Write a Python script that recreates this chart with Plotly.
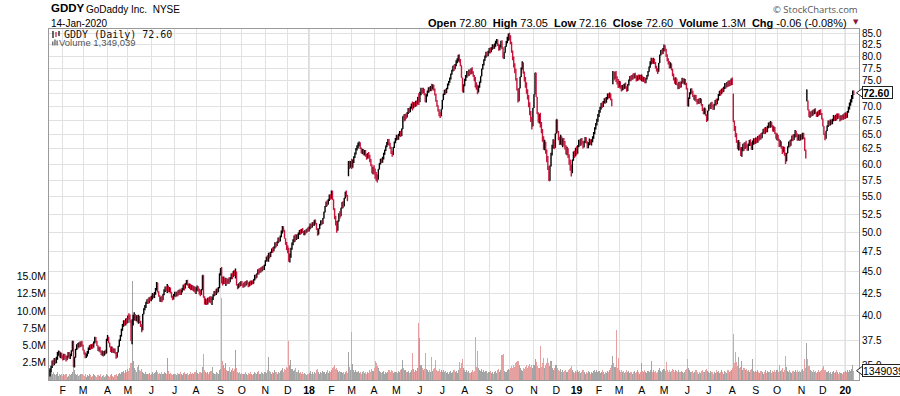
import math
import pandas as pd
import plotly.graph_objects as go

# ---------------- data ----------------
# daily closes, one sub-list per month
close_2017 = [
    [34.5, 34.9, 35.4, 35.2, 35.6, 35.3, 35.8, 36.1, 36.3, 35.9, 36.1, 35.8],
    [35.7, 36.0, 35.8, 35.6, 35.9, 36.2, 35.8, 36.0, 36.4, 37.4, 34.9, 35.8, 36.6, 37.0, 36.8, 37.2, 36.9, 37.3, 37.0],
    [36.5, 36.1, 35.9, 36.0, 36.3, 36.6, 36.9, 36.7, 37.0, 36.8, 37.3, 37.7, 37.4, 36.9, 36.5, 36.7, 36.4, 36.1, 36.3, 36.0, 36.4, 36.2, 37.6],
    [37.8, 37.2, 36.8, 36.4, 36.7, 36.3, 36.6, 36.2, 35.8, 36.3, 36.9, 37.5, 37.9, 38.6, 39.0, 39.4, 39.1, 39.6, 39.3],
    [40.0, 39.9, 39.5, 37.4, 39.3, 39.8, 40.1, 39.6, 39.9, 39.5, 39.8, 39.4, 38.9, 38.5, 40.2, 40.8, 41.0, 41.4, 41.7, 41.5, 41.9, 41.8],
    [42.0, 42.3, 42.1, 42.5, 42.9, 43.7, 42.6, 42.2, 41.6, 42.0, 41.7, 42.4, 42.8, 43.1, 42.9, 43.2, 42.8, 43.0, 42.6, 42.0, 41.9, 42.3],
    [42.5, 42.2, 42.6, 42.4, 42.8, 42.5, 42.7, 43.0, 43.3, 43.1, 43.6, 43.9, 43.5, 43.2, 43.4, 43.0, 43.3, 42.9, 43.1, 42.7],
    [42.9, 43.2, 42.8, 42.6, 42.4, 42.9, 44.6, 42.0, 41.4, 41.7, 41.3, 41.9, 41.6, 42.0, 41.5, 41.8, 42.3, 42.6, 42.4, 42.9, 42.7, 43.1, 44.8],
    [45.2, 44.0, 43.8, 44.2, 43.6, 44.0, 43.7, 44.1, 43.8, 44.3, 44.6, 44.4, 45.1, 44.6, 45.0, 43.4, 43.1, 43.6, 43.4, 43.8],
    [43.5, 43.2, 43.7, 43.4, 43.9, 43.6, 43.3, 43.8, 43.5, 43.9, 43.6, 44.1, 44.5, 44.3, 44.8, 45.2, 44.9, 45.4, 45.1, 45.6, 45.3, 45.8],
    [46.3, 46.8, 46.5, 47.1, 46.9, 47.4, 47.8, 47.6, 48.1, 48.5, 48.2, 48.8, 49.1, 48.9, 49.5, 50.1, 50.6, 50.3, 49.2, 48.4, 48.0],
    [47.6, 46.6, 46.8, 47.9, 48.5, 48.9, 49.4, 49.1, 49.6, 49.3, 49.8, 50.2, 49.9, 50.4, 50.1, 49.7, 50.2, 50.0, 50.5, 50.3],
]
close_2018 = [
    [50.6, 51.0, 50.7, 51.3, 51.0, 51.6, 51.2, 50.4, 49.7, 50.5, 51.1, 51.5, 51.2, 51.9, 52.8, 53.6, 54.2, 53.9, 54.6, 55.1, 54.8],
    [55.8, 54.6, 53.1, 52.0, 51.2, 50.3, 51.5, 52.6, 52.2, 53.4, 54.1, 53.6, 54.8, 55.7, 55.2, 54.4, 60.2, 59.6, 60.3],
    [59.8, 60.4, 61.1, 61.8, 62.4, 62.9, 63.2, 63.5, 62.6, 61.9, 62.3, 61.6, 62.1, 61.4, 61.0, 61.7, 61.2, 60.6, 59.9, 58.6, 59.4],
    [58.8, 58.2, 57.9, 57.6, 59.2, 60.1, 60.7, 60.4, 61.0, 61.6, 62.3, 62.9, 63.5, 63.8, 63.4, 62.6, 61.9, 61.5, 62.8, 63.6, 64.2],
    [64.6, 64.2, 64.9, 65.3, 64.8, 65.9, 68.2, 67.6, 68.4, 68.0, 68.9, 69.4, 69.1, 69.8, 70.3, 69.9, 70.5, 70.2, 70.8, 70.4, 71.8, 71.0],
    [72.6, 73.1, 72.8, 73.3, 72.2, 71.1, 72.0, 72.9, 73.4, 73.1, 73.8, 73.5, 74.0, 73.2, 72.3, 71.0, 70.2, 69.1, 68.6, 68.2, 69.5],
    [71.2, 72.4, 73.0, 72.6, 73.5, 74.2, 74.8, 75.4, 76.3, 77.1, 77.8, 77.4, 78.3, 78.8, 79.4, 79.9, 79.3, 78.1, 75.6, 72.8, 74.1],
    [75.2, 75.9, 76.6, 76.2, 77.0, 76.5, 77.3, 76.8, 75.9, 75.1, 74.3, 73.6, 72.9, 73.8, 74.6, 75.9, 77.4, 78.3, 79.2, 80.1, 80.7, 80.3, 81.0],
    [81.5, 81.1, 81.8, 82.3, 81.9, 82.6, 83.0, 83.6, 82.4, 81.6, 82.3, 83.1, 82.0, 79.6, 80.8, 82.2, 83.3, 83.9, 84.6],
    [84.2, 83.1, 80.9, 79.6, 78.1, 77.0, 75.4, 73.2, 71.0, 73.5, 75.8, 77.6, 78.7, 76.5, 75.2, 74.1, 73.0, 71.6, 70.4, 68.8, 67.5, 66.4, 69.7],
    [72.3, 76.6, 71.8, 68.6, 67.4, 68.1, 66.9, 65.4, 64.2, 62.8, 63.5, 61.9, 60.8, 59.6, 57.4, 59.8, 61.7, 62.9, 63.8, 62.7, 65.1],
    [67.6, 65.3, 64.2, 63.5, 64.6, 63.1, 64.0, 63.4, 62.8, 61.9, 62.4, 61.2, 60.3, 59.4, 58.6, 60.7, 61.9, 61.3, 62.6],
]
close_2019 = [
    [61.8, 63.0, 63.8, 63.2, 64.1, 63.5, 62.9, 63.7, 64.3, 63.6, 62.8, 63.4, 64.0, 63.3, 63.9, 64.4, 65.2, 66.0, 66.8, 67.5, 68.3],
    [69.1, 69.7, 70.4, 70.1, 70.8, 71.3, 70.9, 71.6, 72.2, 71.8, 72.4, 71.2, 70.3, 76.2, 75.7, 76.4, 75.3, 74.8, 74.1],
    [74.5, 73.8, 73.2, 74.0, 73.5, 74.3, 73.7, 73.0, 74.2, 75.1, 75.7, 75.2, 76.1, 75.6, 76.3, 75.8, 75.1, 75.9, 75.4, 76.0, 75.3],
    [75.8, 74.9, 75.6, 74.6, 75.4, 76.0, 76.8, 77.9, 78.7, 79.3, 78.8, 79.4, 78.5, 77.8, 77.1, 76.8, 78.6, 80.4, 81.2, 80.8, 81.6],
    [82.1, 81.4, 80.2, 79.3, 78.6, 77.9, 78.4, 77.2, 76.1, 75.4, 74.6, 75.3, 74.2, 73.6, 74.5, 73.8, 74.7, 75.3, 74.6, 75.1, 74.3, 73.5],
    [70.1, 71.6, 72.5, 73.2, 72.7, 72.1, 71.4, 71.9, 71.2, 70.6, 71.3, 70.8, 71.4, 70.2, 69.4, 68.8, 69.6, 68.3, 67.4, 69.2],
    [70.3, 69.7, 70.6, 70.1, 69.5, 70.4, 71.0, 70.6, 71.3, 72.2, 72.8, 72.4, 73.3, 72.9, 73.7, 74.2, 73.8, 74.6, 74.1, 74.8, 74.3, 75.2],
    [74.6, 67.2, 65.8, 65.1, 63.6, 62.8, 63.4, 62.5, 61.6, 62.4, 63.1, 62.6, 63.5, 63.0, 62.4, 63.2, 63.8, 63.3, 62.7, 63.5, 64.0, 63.6],
    [64.2, 63.7, 64.5, 64.1, 64.9, 64.4, 65.2, 65.8, 65.3, 66.0, 65.5, 66.3, 66.8, 66.5, 67.0, 66.4, 65.7, 66.1, 65.2, 64.3],
    [64.8, 63.9, 63.1, 63.7, 62.6, 62.0, 62.8, 61.4, 60.5, 61.8, 62.9, 63.6, 63.1, 64.0, 64.6, 64.1, 64.9, 65.3, 64.8, 64.2, 64.7, 64.1, 64.8],
    [64.3, 65.0, 64.4, 62.2, 61.1, 71.0, 69.4, 68.1, 68.9, 68.3, 69.2, 68.6, 69.5, 68.8, 68.2, 69.0, 68.5, 69.3, 68.6, 67.8],
    [66.4, 64.9, 64.2, 65.6, 66.5, 67.2, 66.7, 67.4, 66.9, 67.6, 68.1, 67.5, 68.3, 67.9, 68.5, 68.0, 67.6, 68.2, 67.7, 68.4, 68.0],
]
close_2020 = [
    [68.6, 68.1, 69.0, 69.8, 70.4, 71.1, 71.8, 72.66, 72.60],
]

# daily high-low range, in tenths of a percent of the price, one sub-list per month
range_2017 = [
    [22, 18, 20, 16, 19, 15, 17, 21, 14, 18, 16, 15],
    [14, 17, 13, 16, 12, 15, 18, 14, 16, 25, 45, 28, 19, 15, 17, 13, 16, 14, 15],
    [15, 13, 16, 12, 14, 17, 13, 15, 12, 14, 16, 18, 14, 12, 15, 13, 16, 12, 14, 15, 12, 13, 18],
    [16, 14, 12, 15, 17, 13, 12, 14, 18, 15, 17, 19, 16, 20, 18, 17, 15, 19, 16],
    [20, 17, 22, 30, 65, 28, 22, 18, 16, 20, 24, 19, 17, 21, 18, 16, 14, 17, 13, 15, 16, 12],
    [15, 17, 13, 16, 18, 22, 19, 15, 18, 14, 17, 15, 16, 14, 13, 24, 18, 14, 16, 13, 12, 15],
    [13, 15, 12, 16, 13, 17, 14, 12, 15, 18, 14, 13, 16, 12, 14, 17, 13, 15, 14, 17],
    [18, 15, 14, 16, 17, 15, 30, 40, 22, 17, 15, 18, 14, 16, 19, 22, 15, 14, 13, 16, 15, 14, 28],
    [20, 45, 24, 20, 16, 22, 15, 14, 18, 13, 15, 17, 14, 16, 26, 18, 14, 12, 13, 12],
    [12, 11, 13, 15, 12, 11, 13, 12, 14, 11, 10, 12, 15, 13, 11, 14, 16, 12, 15, 13, 12, 14],
    [15, 13, 17, 24, 16, 14, 12, 15, 13, 17, 14, 12, 15, 13, 16, 18, 20, 15, 19, 17, 22],
    [22, 38, 24, 26, 19, 16, 18, 20, 15, 14, 17, 13, 15, 12, 14, 11, 13, 12, 10, 12],
]
range_2018 = [
    [13, 15, 12, 14, 11, 16, 13, 18, 20, 15, 13, 14, 12, 16, 18, 17, 15, 16, 14, 17, 15],
    [22, 25, 28, 30, 26, 32, 27, 22, 20, 18, 17, 19, 16, 18, 17, 16, 40, 22, 18],
    [28, 22, 18, 15, 17, 14, 16, 13, 18, 15, 14, 17, 15, 18, 16, 14, 17, 20, 19, 24, 20],
    [25, 28, 24, 22, 20, 17, 15, 14, 16, 18, 13, 15, 14, 16, 18, 17, 19, 16, 15, 17, 14],
    [15, 13, 16, 14, 17, 20, 30, 20, 18, 15, 14, 16, 13, 15, 14, 24, 17, 14, 16, 15, 19, 32],
    [28, 20, 16, 15, 17, 24, 22, 16, 14, 15, 13, 20, 14, 16, 19, 22, 18, 17, 19, 16, 18],
    [17, 16, 14, 15, 13, 15, 12, 14, 16, 13, 15, 17, 14, 16, 13, 18, 22, 20, 26, 30, 22],
    [20, 16, 18, 15, 17, 14, 16, 18, 15, 17, 28, 20, 25, 19, 17, 16, 18, 15, 17, 14, 16, 13, 15],
    [14, 16, 13, 15, 12, 14, 16, 13, 17, 19, 15, 18, 24, 28, 18, 16, 15, 17, 19],
    [20, 24, 28, 26, 30, 27, 32, 34, 38, 33, 28, 25, 22, 30, 27, 29, 31, 28, 33, 35, 30, 34, 32],
    [30, 45, 38, 32, 28, 26, 40, 30, 34, 36, 28, 32, 34, 38, 40, 32, 36, 28, 25, 26, 30],
    [32, 28, 25, 22, 26, 21, 24, 20, 23, 25, 22, 26, 28, 30, 32, 27, 24, 20, 22],
]
range_2019 = [
    [24, 22, 20, 18, 19, 17, 20, 18, 16, 17, 19, 16, 18, 15, 17, 16, 18, 19, 17, 18, 20],
    [18, 16, 17, 15, 16, 14, 17, 15, 16, 14, 15, 18, 20, 35, 24, 20, 30, 22, 24],
    [18, 20, 17, 15, 16, 14, 17, 15, 18, 16, 14, 15, 13, 16, 14, 15, 17, 14, 16, 13, 15],
    [18, 15, 13, 16, 14, 12, 15, 14, 17, 18, 15, 16, 14, 17, 15, 16, 19, 18, 15, 14, 16],
    [18, 17, 22, 19, 17, 20, 16, 18, 20, 19, 17, 20, 18, 16, 19, 17, 16, 15, 14, 16, 17, 18],
    [30, 24, 18, 16, 15, 17, 14, 16, 18, 15, 13, 16, 14, 17, 19, 16, 18, 19, 21, 18],
    [16, 14, 17, 15, 13, 16, 14, 18, 15, 17, 14, 16, 15, 14, 13, 16, 15, 14, 17, 15, 16, 18],
    [20, 40, 28, 30, 26, 24, 28, 22, 24, 26, 20, 22, 18, 20, 17, 19, 16, 18, 20, 25, 17, 16],
    [17, 15, 18, 16, 14, 17, 15, 13, 16, 18, 14, 17, 15, 16, 18, 14, 17, 15, 19, 17],
    [18, 16, 22, 17, 19, 21, 16, 18, 30, 22, 18, 16, 19, 17, 15, 18, 16, 20, 17, 19, 16, 18, 17],
    [16, 18, 17, 28, 24, 32, 26, 20, 17, 15, 14, 16, 13, 15, 12, 14, 16, 13, 15, 17],
    [20, 24, 18, 16, 15, 17, 14, 16, 13, 15, 17, 14, 16, 18, 15, 13, 16, 14, 12, 15, 16],
]
range_2020 = [
    [17, 15, 18, 16, 19, 17, 20, 22, 12],
]

# daily volume, in units of 100,000 shares, one sub-list per month
vol_2017 = [
    [14, 10, 9, 12, 8, 7, 9, 11, 6, 8, 7, 9],
    [6, 8, 7, 9, 5, 6, 8, 7, 9, 12, 22, 14, 9, 7, 8, 6, 7, 9, 8],
    [7, 6, 8, 5, 7, 6, 9, 7, 5, 6, 8, 7, 6, 5, 7, 6, 8, 5, 6, 7, 5, 6, 8],
    [7, 6, 5, 7, 8, 6, 5, 7, 9, 6, 8, 10, 9, 12, 11, 13, 10, 15, 12],
    [16, 13, 18, 25, 143, 28, 17, 14, 12, 19, 22, 15, 13, 16, 12, 10, 9, 11, 8, 9, 10, 7],
    [9, 11, 8, 10, 12, 14, 11, 9, 10, 8, 12, 9, 11, 10, 8, 32, 13, 9, 10, 8, 7, 9],
    [8, 9, 7, 10, 8, 11, 9, 7, 10, 12, 9, 8, 10, 7, 9, 11, 8, 10, 9, 12],
    [14, 10, 9, 11, 12, 10, 19, 37, 15, 11, 10, 12, 9, 11, 13, 19, 10, 9, 8, 11, 10, 9, 14],
    [16, 119, 28, 22, 17, 24, 15, 13, 19, 12, 14, 18, 13, 16, 44, 17, 12, 10, 11, 9],
    [10, 8, 9, 12, 8, 7, 10, 9, 11, 8, 7, 9, 12, 10, 8, 11, 13, 9, 12, 10, 9, 11],
    [12, 10, 14, 34, 13, 11, 9, 12, 10, 14, 11, 9, 12, 10, 13, 15, 17, 12, 16, 14, 19],
    [18, 56, 21, 29, 16, 13, 15, 18, 12, 11, 14, 10, 12, 9, 11, 8, 10, 9, 7, 8],
]
vol_2018 = [
    [10, 13, 9, 11, 8, 12, 10, 14, 16, 11, 9, 12, 10, 13, 11, 9, 12, 14, 10, 13, 11],
    [15, 17, 19, 21, 16, 18, 14, 12, 13, 11, 10, 12, 9, 11, 13, 10, 41, 19, 14],
    [70, 23, 15, 12, 14, 11, 13, 10, 12, 9, 11, 13, 10, 12, 9, 11, 10, 14, 12, 16, 13],
    [18, 28, 24, 20, 17, 13, 12, 10, 11, 13, 9, 12, 10, 11, 14, 12, 15, 13, 10, 12, 11],
    [12, 10, 13, 11, 14, 16, 29, 18, 15, 12, 11, 13, 10, 12, 14, 39, 16, 12, 15, 13, 17, 83],
    [61, 22, 17, 14, 16, 39, 16, 15, 12, 14, 11, 33, 13, 16, 18, 29, 15, 13, 16, 12, 14],
    [12, 14, 11, 13, 10, 12, 9, 11, 13, 10, 12, 14, 11, 13, 10, 15, 26, 18, 24, 30, 17],
    [15, 12, 14, 11, 13, 10, 12, 14, 11, 13, 62, 19, 42, 17, 14, 13, 16, 12, 14, 11, 13, 10, 12],
    [11, 13, 10, 12, 9, 11, 13, 10, 14, 16, 12, 15, 36, 38, 13, 11, 12, 14, 16],
    [14, 17, 20, 18, 22, 19, 24, 26, 28, 21, 17, 15, 13, 18, 16, 19, 21, 17, 20, 23, 19, 22, 18],
    [21, 31, 26, 20, 18, 17, 49, 19, 24, 32, 17, 21, 25, 32, 24, 20, 28, 18, 15, 17, 22],
    [22, 18, 15, 13, 16, 12, 14, 11, 13, 15, 12, 14, 16, 18, 20, 15, 12, 10, 13],
]
vol_2019 = [
    [12, 14, 11, 13, 10, 12, 14, 11, 9, 12, 10, 13, 11, 9, 12, 10, 13, 15, 12, 14, 11],
    [13, 10, 12, 14, 11, 9, 12, 10, 13, 11, 15, 18, 21, 35, 24, 19, 72, 18, 32],
    [15, 12, 14, 11, 13, 10, 12, 14, 11, 13, 10, 12, 9, 11, 13, 10, 12, 14, 11, 9, 12],
    [24, 13, 11, 14, 12, 10, 13, 11, 15, 28, 12, 14, 11, 13, 10, 12, 15, 17, 13, 11, 14],
    [16, 13, 26, 14, 12, 15, 11, 13, 16, 14, 12, 15, 13, 11, 14, 12, 13, 11, 10, 12, 14, 16],
    [30, 17, 14, 12, 11, 13, 10, 12, 14, 11, 9, 12, 10, 13, 15, 11, 12, 14, 16, 13],
    [12, 10, 13, 11, 9, 12, 10, 14, 11, 13, 10, 12, 14, 11, 9, 13, 12, 10, 14, 11, 13, 15],
    [18, 67, 24, 41, 26, 20, 33, 18, 19, 28, 15, 17, 14, 16, 13, 15, 12, 14, 16, 30, 13, 12],
    [13, 11, 14, 12, 10, 13, 11, 9, 12, 14, 10, 13, 11, 12, 14, 10, 13, 11, 15, 12],
    [14, 12, 21, 13, 15, 17, 12, 14, 35, 19, 13, 11, 14, 12, 10, 13, 11, 15, 12, 14, 11, 13, 12],
    [14, 16, 13, 30, 18, 54, 31, 20, 15, 13, 12, 14, 11, 13, 10, 12, 14, 11, 13, 15],
    [17, 20, 14, 12, 11, 13, 10, 12, 9, 11, 13, 10, 12, 14, 11, 9, 12, 10, 8, 11, 12],
]
vol_2020 = [
    [13, 11, 14, 12, 15, 13, 16, 22, 13.49039],
]

# opens that differ from the previous close (gap days), by bar number
gap_open = {0: 34.3, 280: 58.4, 528: 75.0, 641: 72.4, 710: 73.2}
last_open, last_high, last_low = 72.80, 73.05, 72.16

nyse_holidays = [
    "2017-01-02", "2017-01-16", "2017-02-20", "2017-04-14", "2017-05-29", "2017-07-04",
    "2017-09-04", "2017-11-23", "2017-12-25",
    "2018-01-01", "2018-01-15", "2018-02-19", "2018-03-30", "2018-05-28", "2018-07-04",
    "2018-09-03", "2018-11-22", "2018-12-05", "2018-12-25",
    "2019-01-01", "2019-01-21", "2019-02-18", "2019-04-19", "2019-05-27", "2019-07-04",
    "2019-09-02", "2019-11-28", "2019-12-25",
    "2020-01-01",
]
last_date = "2020-01-14"

price_ticks = [35.0, 37.5, 40.0, 42.5, 45.0, 47.5, 50.0, 52.5, 55.0, 57.5, 60.0, 62.5,
               65.0, 67.5, 70.0, 72.5, 75.0, 77.5, 80.0, 82.5, 85.0]
vol_ticks_m = [2.5, 5.0, 7.5, 10.0, 12.5, 15.0]
month_letters = ["J", "F", "M", "A", "M", "J", "J", "A", "S", "O", "N", "D"]


# ---------------- assemble ----------------
def flat(*years):
    return [v for yr in years for m in yr for v in m]


closes = flat(close_2017, close_2018, close_2019, close_2020)
ranges = [r / 1000.0 for r in flat(range_2017, range_2018, range_2019, range_2020)]
vols = [v * 1e5 for v in flat(vol_2017, vol_2018, vol_2019, vol_2020)]
n = min(len(closes), len(vols), len(ranges))
closes, vols, ranges = closes[:n], vols[:n], ranges[:n]

days = pd.bdate_range("2016-11-01", last_date)
days = days[~days.isin(pd.to_datetime(nyse_holidays))]
dates = days[-n:]
idx = list(range(n))

opens = [closes[i - 1] if i > 0 else closes[0] for i in range(n)]
for k, v in gap_open.items():
    if k < n:
        opens[k] = v
opens[-1] = last_open
highs, lows = [], []
for o, c, r in zip(opens, closes, ranges):
    span = r * c
    extra = max(0.0, span - abs(o - c)) / 2.0
    highs.append(max(o, c) + extra)
    lows.append(min(o, c) - extra)
highs[-1], lows[-1] = last_high, last_low

up = [True] + [closes[i] >= closes[i - 1] for i in range(1, n)]

# month ticks
tickvals, ticktext, year_idx = [], [], []
for i in range(1, n):
    if dates[i].month != dates[i - 1].month:
        tickvals.append(i)
        if dates[i].month == 1:
            ticktext.append("<b>%02d</b>" % (dates[i].year % 100))
            year_idx.append(i)
        else:
            ticktext.append(month_letters[dates[i].month - 1])

# ---------------- geometry of the page ----------------
W, H = 900, 396
L, R, T, B = 49, 859, 29, 380
px_per_bar = 1.066
x0 = -1.0 / px_per_bar
x1 = x0 + (R - L) / px_per_bar
p_top = 86.1
p_bot = 33.7
v_top = 50.8e6


def px(xp):
    return (xp - L) / (R - L)


def py(yp):
    return (B - yp) / (B - T)


FONT = "Liberation Sans, Arial, sans-serif"
UPC = "#000000"
DNC = "#c8143c"

fig = go.Figure()
fig.add_trace(go.Bar(
    x=idx, y=vols, width=1.0, yaxis="y",
    marker=dict(color=["#a4a4a4" if u else "#e6a0a0" for u in up], line=dict(width=0)),
    hoverinfo="skip", showlegend=False))
for want, col in ((True, UPC), (False, DNC)):
    sel = [i for i in idx if up[i] == want]
    fig.add_trace(go.Ohlc(
        x=sel, open=[opens[i] for i in sel], high=[highs[i] for i in sel],
        low=[lows[i] for i in sel], close=[closes[i] for i in sel],
        increasing=dict(line=dict(color=col, width=1.4)),
        decreasing=dict(line=dict(color=col, width=1.4)),
        tickwidth=0.4, yaxis="y2", showlegend=False, hoverinfo="skip"))

shapes = []
for yi in year_idx:
    shapes.append(dict(type="line", xref="x", yref="paper", x0=yi, x1=yi, y0=0, y1=1,
                       line=dict(color="#b4b4b4", width=1), layer="below"))

annotations = []


def tag(y_paper, text, box_w):
    # notch + box tag on the right edge
    h = 9.0
    tip = px(856.5)
    bl = px(862)
    yt = y_paper + (h / 2) / (B - T)
    yb = y_paper - (h / 2) / (B - T)
    annotations.append(dict(xref="paper", yref="paper", x=bl, y=y_paper, xanchor="left",
                            yanchor="middle", showarrow=False, text=text, width=box_w,
                            height=11, align="left",
                            font=dict(family=FONT, size=10.5, color="#000"),
                            bgcolor="white", bordercolor="#222", borderwidth=1, borderpad=0))
    shapes.append(dict(type="path", xref="paper", yref="paper",
                       path="M %f %f L %f %f L %f %f Z" % (tip, y_paper, bl + 0.6 / (R - L), yt,
                                                           bl + 0.6 / (R - L), yb),
                       fillcolor="white", line=dict(color="#222", width=1), layer="above"))
    shapes.append(dict(type="line", xref="paper", yref="paper", x0=bl + 1.0 / (R - L),
                       x1=bl + 1.0 / (R - L),
                       y0=yb + 1.0 / (B - T), y1=yt - 1.0 / (B - T),
                       line=dict(color="white", width=1.5), layer="above"))


lp = closes[-1]
y_price = (math.log10(lp) - math.log10(p_bot)) / (math.log10(p_top) - math.log10(p_bot))
y_vol = vols[-1] / v_top

# header
prev = closes[-2]
chg = lp - prev
pct = chg / prev * 100
vol_last = round(vols[-1])
annotations += [
    dict(xref="paper", yref="paper", x=px(49), y=py(8.5), xanchor="left", yanchor="middle",
         showarrow=False, text="<b>GDDY</b>", font=dict(family=FONT, size=11.5, color="#000")),
    dict(xref="paper", yref="paper", x=px(84), y=py(9), xanchor="left", yanchor="middle",
         showarrow=False, text="GoDaddy Inc.  NYSE", font=dict(family=FONT, size=10, color="#000")),
    dict(xref="paper", yref="paper", x=px(49), y=py(23), xanchor="left", yanchor="middle",
         showarrow=False, text=dates[-1].strftime("%d-%b-%Y"), font=dict(family=FONT, size=10, color="#000")),
    dict(xref="paper", yref="paper", x=px(849), y=py(23), xanchor="right", yanchor="middle",
         showarrow=False,
         text=("<b>Open</b> %.2f  <b>High</b> %.2f  <b>Low</b> %.2f  <b>Close</b> %.2f  "
               "<b>Volume</b> %.1fM  <b>Chg</b> %.2f (%.2f%%)")
         % (opens[-1], highs[-1], lows[-1], lp, vols[-1] / 1e6, chg, pct),
         font=dict(family=FONT, size=11, color="#000")),
    dict(xref="paper", yref="paper", x=px(850.5), y=py(22.5), xanchor="left", yanchor="middle",
         showarrow=False, text="▼", font=dict(family="DejaVu Sans", size=7, color="#8b1538")),
    dict(xref="paper", yref="paper", x=px(860), y=py(9.5), xanchor="right", yanchor="middle",
         showarrow=False, text="© StockCharts.com", font=dict(family="Open Sans, sans-serif", size=9.5, color="#555")),
    dict(xref="paper", yref="paper", x=px(62), y=py(34.5), xanchor="left", yanchor="middle",
         showarrow=False, text="GDDY (Daily) %.2f" % lp,
         font=dict(family="DejaVu Sans Mono, Liberation Mono, monospace", size=10, color="#111")),
    dict(xref="paper", yref="paper", x=px(57), y=py(42.5), xanchor="left", yanchor="middle",
         showarrow=False, text="Volume {:,}".format(vol_last),
         font=dict(family=FONT, size=9.5, color="#555")),
]

# legend icons
for xx, y_a, y_b, c in ((53, 31, 38, "#000"), (56, 32, 37, DNC), (59, 31, 36, "#000")):
    shapes.append(dict(type="line", xref="paper", yref="paper", x0=px(xx), x1=px(xx),
                       y0=py(y_a), y1=py(y_b), line=dict(color=c, width=1.2), layer="above"))
for xa, ytop in ((52, 41.5), (54.2, 39.5), (56.4, 40.5)):
    shapes.append(dict(type="rect", xref="paper", yref="paper", x0=px(xa), x1=px(xa + 1.5),
                       y0=py(45.5), y1=py(ytop), fillcolor="#777", line=dict(width=0), layer="above"))

tag(y_price, "<b>%.2f</b>" % lp, 29)
tag(y_vol, "%d" % vol_last, 44)

grid = "#e1e1e1"
fig.update_layout(
    width=W, height=H,
    margin=dict(l=L, r=W - R, t=T, b=H - B, pad=0, autoexpand=False),
    paper_bgcolor="white", plot_bgcolor="white",
    showlegend=False, bargap=0, hovermode=False, dragmode=False,
    font=dict(family=FONT, size=10, color="#000"),
    xaxis=dict(range=[x0, x1], tickvals=tickvals, ticktext=ticktext, showgrid=True,
               gridcolor=grid, gridwidth=1, zeroline=False, ticks="", showline=True,
               linecolor="#9a9a9a", mirror=True, rangeslider=dict(visible=False),
               automargin=False,
               tickfont=dict(family=FONT, size=10.5, color="#000"), fixedrange=True),
    yaxis=dict(range=[0, v_top], side="left", tickvals=[v * 1e6 for v in vol_ticks_m],
               ticktext=["%.1fM" % v for v in vol_ticks_m], showgrid=False, zeroline=False,
               ticks="", showline=True, linecolor="#9a9a9a", automargin=False, fixedrange=True,
               tickfont=dict(family=FONT, size=10.5, color="#000")),
    yaxis2=dict(overlaying="y", side="right", type="log",
                range=[math.log10(p_bot), math.log10(p_top)],
                tickvals=price_ticks, ticktext=["%.1f" % v for v in price_ticks],
                showgrid=True, gridcolor=grid, gridwidth=1, zeroline=False, ticks="",
                showline=True, linecolor="#9a9a9a", automargin=False, fixedrange=True,
                tickfont=dict(family=FONT, size=10, color="#000")),
    shapes=shapes, annotations=annotations,
)

fig.write_html(
    "out.html",
    config={"displayModeBar": False, "staticPlot": True},
    post_script="document.body.style.margin='0px';document.body.style.overflow='hidden';",
)
